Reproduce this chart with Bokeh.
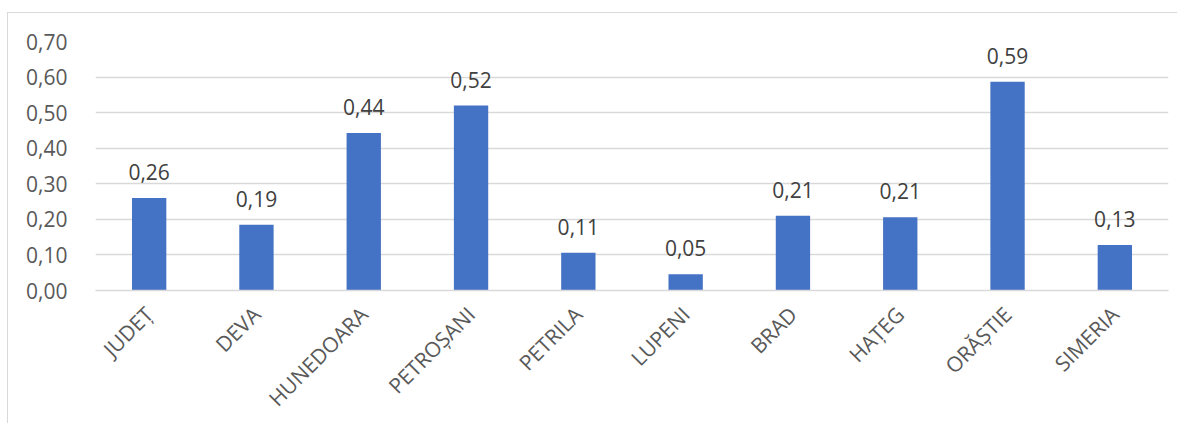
import math
from bokeh.plotting import figure
from bokeh.models import ColumnDataSource, Range1d, FixedTicker, CustomJSTickFormatter
from bokeh.core.properties import value
from bokeh.embed import file_html
from bokeh.resources import INLINE

categories = ["JUDEȚ", "DEVA", "HUNEDOARA", "PETROȘANI", "PETRILA",
              "LUPENI", "BRAD", "HAȚEG", "ORĂȘTIE", "SIMERIA"]
values = [0.26, 0.185, 0.443, 0.52, 0.106, 0.046, 0.21, 0.206, 0.587, 0.128]
value_labels = ["0,26", "0,19", "0,44", "0,52", "0,11", "0,05", "0,21", "0,21", "0,59", "0,13"]
y_ticks = [0.0, 0.1, 0.2, 0.3, 0.4, 0.5, 0.6, 0.7]

FONT = "Open Sans"
TXT = "#595959"
GRID = "#d9d9d9"

src = ColumnDataSource(dict(cat=categories, val=values, lab=value_labels))

p = figure(x_range=categories, y_range=Range1d(0, 0.7),
           width=1170, height=411, output_backend="svg", toolbar_location=None,
           min_border_left=87, min_border_right=10, min_border_top=28, min_border_bottom=120)
p.styles = {"border-left": "1px solid #d9d9d9", "border-top": "1px solid #d9d9d9",
            "margin-top": "12px", "margin-left": "7px"}

p.vbar(x="cat", top="val", width=0.32, source=src, color="#4472C4", line_color=None)

p.text(x="cat", y="val", text="lab", source=src, text_align="center",
       text_baseline="middle", y_offset=-26, text_font=value(FONT),
       text_font_size="21px", text_color="#404040")

p.outline_line_color = None
p.xgrid.grid_line_color = None
p.ygrid.grid_line_color = GRID
p.ygrid.grid_line_width = 1.5
p.yaxis.ticker = FixedTicker(ticks=y_ticks)
p.yaxis.formatter = CustomJSTickFormatter(code="return tick.toFixed(2).replace('.', ',');")
p.yaxis.axis_line_color = None
p.yaxis.major_tick_line_color = None
p.yaxis.minor_tick_line_color = None
p.yaxis.major_label_standoff = 22
p.yaxis.major_label_text_font = FONT
p.yaxis.major_label_text_font_size = "21px"
p.yaxis.major_label_text_color = TXT

p.xaxis.axis_line_color = GRID
p.xaxis.axis_line_width = 1.5
p.xaxis.major_tick_line_color = None
p.xaxis.minor_tick_line_color = None
p.xaxis.major_label_orientation = math.pi / 4
p.xaxis.major_label_standoff = 14
p.xaxis.major_label_text_font = FONT
p.xaxis.major_label_text_font_size = "21px"
p.xaxis.major_label_text_color = TXT

open("out.html", "w").write(file_html(p, INLINE))
